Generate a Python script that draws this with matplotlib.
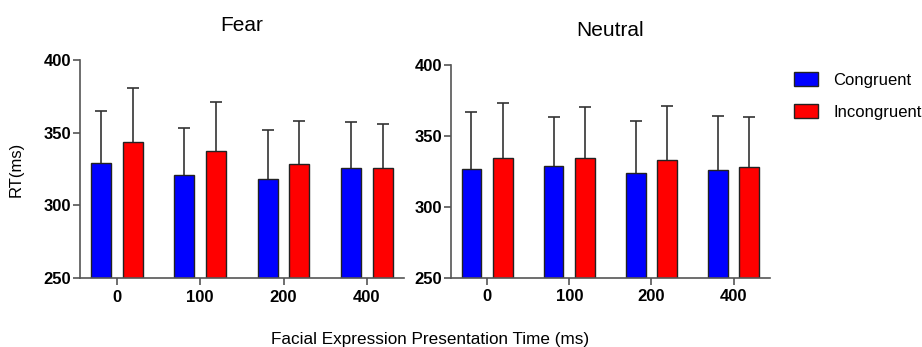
import numpy as np
import matplotlib
matplotlib.use("Agg")
import matplotlib.pyplot as plt
from matplotlib.patches import Patch

# presentation time categories
times = ["0", "100", "200", "400"]

# Fear panel: means and top of error bar (mean + SD)
fear_cong = [328.9, 320.6, 317.9, 325.9]
fear_cong_top = [365.1, 353.2, 351.8, 357.1]
fear_incong = [343.6, 337.4, 328.4, 325.7]
fear_incong_top = [380.5, 370.9, 358.0, 356.2]

# Neutral panel
neut_cong = [326.4, 328.8, 323.6, 326.0]
neut_cong_top = [366.9, 362.9, 360.7, 364.3]
neut_incong = [334.2, 334.6, 333.0, 327.8]
neut_incong_top = [373.0, 370.4, 371.3, 363.6]

plt.rcParams["font.family"] = ["Liberation Sans", "DejaVu Sans"]

fig = plt.figure(figsize=(9.22, 3.47), dpi=100)
ax1 = fig.add_axes([0.0868, 0.199, 0.351, 0.628])
ax2 = fig.add_axes([0.489, 0.200, 0.346, 0.613])

spine_col = "#555555"
x = np.arange(len(times))
w = 0.24
off = 0.19


def upper_err(ax, xpos, mean, top):
    # only the upper half of the error bar, with a cap at the top
    ax.vlines(xpos, mean, top, color="#333333", linewidth=1.2, zorder=1)
    ax.plot(xpos, top, linestyle="none", marker="_", markersize=8,
            markeredgewidth=1.2, color="#333333", zorder=1)


def draw(ax, cong, cong_top, incong, incong_top, title, ylab):
    upper_err(ax, x - off, cong, cong_top)
    upper_err(ax, x + off, incong, incong_top)
    ax.bar(x - off, cong, w, color="#0000ff", edgecolor="#222222",
           linewidth=1.0, zorder=2)
    ax.bar(x + off, incong, w, color="#ff0000", edgecolor="#222222",
           linewidth=1.0, zorder=2)
    ax.set_ylim(250, 400)
    ax.set_xlim(-0.44, 3.44)
    ax.set_yticks([250, 300, 350, 400])
    ax.set_xticks(x)
    ax.set_xticklabels(times)
    for s in ["top", "right"]:
        ax.spines[s].set_visible(False)
    for s in ["left", "bottom"]:
        ax.spines[s].set_color(spine_col)
        ax.spines[s].set_linewidth(1.2)
    ax.tick_params(axis="both", colors=spine_col, width=1.2, length=5,
                   labelsize=12, labelcolor="black")
    ax.tick_params(axis="y", pad=1.5)
    for lab in ax.get_xticklabels() + ax.get_yticklabels():
        lab.set_fontweight("bold")
    ax.set_title(title, fontsize=15, pad=21)
    if ylab:
        ax.set_ylabel(ylab, fontsize=12, labelpad=14)


draw(ax1, fear_cong, fear_cong_top, fear_incong, fear_incong_top, "Fear", "RT(ms)")
draw(ax2, neut_cong, neut_cong_top, neut_incong, neut_incong_top, "Neutral", None)

handles = [Patch(facecolor="#0000ff", edgecolor="#222222", label="Congruent"),
           Patch(facecolor="#ff0000", edgecolor="#222222", label="Incongruent")]
fig.legend(handles=handles, loc="upper left", bbox_to_anchor=(0.845, 0.835),
           frameon=False, fontsize=12, handlelength=1.45, handleheight=0.85,
           labelspacing=1.0, handletextpad=0.9)

fig.text(0.466, 0.008, "Facial Expression Presentation Time (ms)", ha="center",
         fontsize=12.3)

fig.savefig("out.png", dpi=100)
